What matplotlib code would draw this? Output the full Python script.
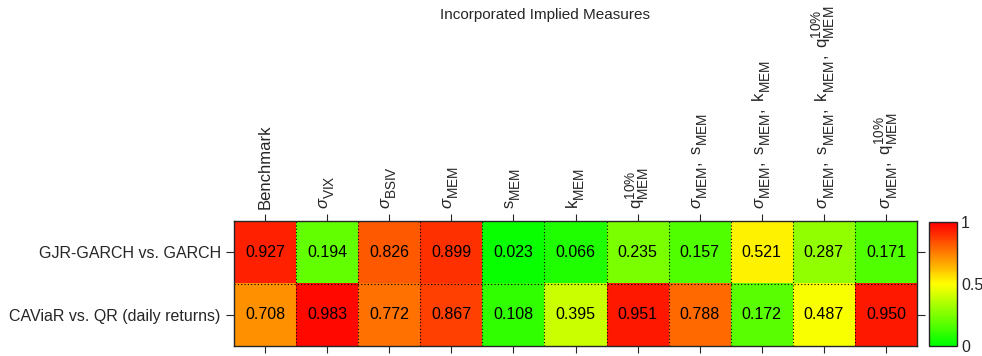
import numpy as np
import matplotlib
matplotlib.use("Agg")
import matplotlib.pyplot as plt
import matplotlib._mathtext as mt
from matplotlib.colors import LinearSegmentedColormap

plt.rcParams['font.family'] = ['Liberation Sans', 'DejaVu Sans']
plt.rcParams['mathtext.fontset'] = 'custom'
plt.rcParams['mathtext.rm'] = 'Liberation Sans'
plt.rcParams['mathtext.it'] = 'Liberation Sans:italic'
# bigger, lower sub/superscripts, closer to the original look
mt.SHRINK_FACTOR = 0.82
mt.FontConstantsBase.sub1 = 0.75
mt.FontConstantsBase.sub2 = 0.75
mt.FontConstantsBase.script_space = 0.1

measures = [
    r'Benchmark',
    r'$\sigma_{\mathrm{VIX}}$',
    r'$\sigma_{\mathrm{BSIV}}$',
    r'$\sigma_{\mathrm{MEM}}$',
    r'$\mathrm{s}_{\mathrm{MEM}}$',
    r'$\mathrm{k}_{\mathrm{MEM}}$',
    r'$\mathrm{q}^{10\%}_{\mathrm{MEM}}$',
    r'$\sigma_{\mathrm{MEM}},\ \mathrm{s}_{\mathrm{MEM}}$',
    r'$\sigma_{\mathrm{MEM}},\ \mathrm{s}_{\mathrm{MEM}},\ \mathrm{k}_{\mathrm{MEM}}$',
    r'$\sigma_{\mathrm{MEM}},\ \mathrm{s}_{\mathrm{MEM}},\ \mathrm{k}_{\mathrm{MEM}},\ \mathrm{q}^{10\%}_{\mathrm{MEM}}$',
    r'$\sigma_{\mathrm{MEM}},\ \mathrm{q}^{10\%}_{\mathrm{MEM}}$',
]
models = ['GJR-GARCH vs. GARCH', 'CAViaR vs. QR (daily returns)']
gjr_vs_garch = [0.927, 0.194, 0.826, 0.899, 0.023, 0.066, 0.235, 0.157, 0.521, 0.287, 0.171]
caviar_vs_qr = [0.708, 0.983, 0.772, 0.867, 0.108, 0.395, 0.951, 0.788, 0.172, 0.487, 0.950]

vals = np.array([gjr_vs_garch, caviar_vs_qr])
cmap = LinearSegmentedColormap.from_list('gyr', [(0, 1, 0), (1, 1, 0), (1, 0, 0)], N=64)

fig = plt.figure(figsize=(9.82, 3.56), dpi=100)
ax = fig.add_axes([0.2383, 0.0281, 0.6955, 0.351])
im = ax.imshow(vals, cmap=cmap, vmin=0, vmax=1, aspect='auto')

nr, nc = vals.shape
for i in range(nr):
    for j in range(nc):
        ax.text(j, i, f'{vals[i, j]:.3f}', ha='center', va='center',
                fontsize=11.5, color='black')

# dotted cell borders
for j in range(1, nc):
    ax.axvline(j - 0.5, color='black', ls=(0, (1, 2)), lw=0.8)
for i in range(1, nr):
    ax.axhline(i - 0.5, color='black', ls=(0, (1, 2)), lw=0.8)

txt = '#262626'
ax.set_xticks(range(nc))
ax.set_xticklabels(measures, rotation=90, fontsize=12, color=txt)
ax.xaxis.set_ticks_position('both')
ax.xaxis.set_label_position('top')
ax.tick_params(axis='x', top=True, bottom=True, labeltop=True, labelbottom=False,
               direction='out', length=5, width=0.8, colors=txt)
ax.set_yticks(range(nr))
ax.set_yticklabels(models, fontsize=11.5, color=txt)
ax.tick_params(axis='y', left=True, right=True, direction='out', length=6,
               width=0.8, colors=txt)
for s in ax.spines.values():
    s.set_linewidth(1.0)
    s.set_color('#262626')

fig.text(0.555, 0.958, 'Incorporated Implied Measures', ha='center', va='center',
         fontsize=11, color=txt)

cax = fig.add_axes([0.946, 0.0281, 0.0285, 0.348])
cb = fig.colorbar(im, cax=cax, ticks=[0, 0.5, 1])
cb.ax.set_yticklabels(['0', '0.5', '1'])
cb.ax.tick_params(direction='in', length=0, labelsize=11.5, colors=txt, pad=3)
cb.outline.set_linewidth(1.0)
cb.outline.set_edgecolor('#262626')

fig.savefig('out.png', dpi=100)
